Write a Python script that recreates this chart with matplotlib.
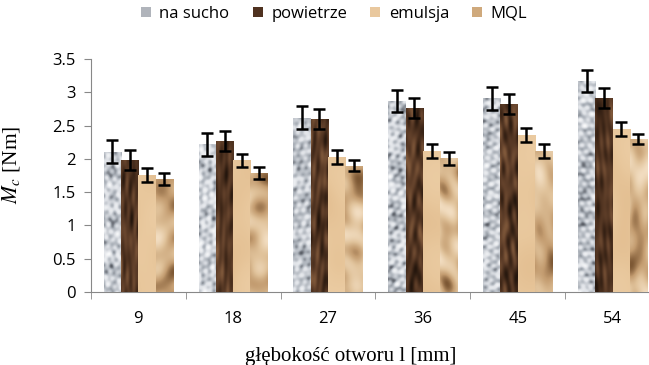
import numpy as np
import matplotlib.pyplot as plt
from matplotlib.colors import LinearSegmentedColormap
from matplotlib.patches import Patch

# dane
glebokosc = ['9', '18', '27', '36', '45', '54']
serie = ['na sucho', 'powietrze', 'emulsja', 'MQL']
na_sucho = [2.11, 2.22, 2.62, 2.87, 2.91, 3.17]
powietrze = [1.98, 2.27, 2.60, 2.77, 2.82, 2.91]
emulsja = [1.76, 1.98, 2.03, 2.12, 2.36, 2.45]
mql = [1.70, 1.79, 1.90, 2.01, 2.12, 2.30]
err_na_sucho = [0.17, 0.17, 0.17, 0.17, 0.17, 0.17]
err_powietrze = [0.15, 0.15, 0.15, 0.15, 0.15, 0.15]
err_emulsja = [0.10, 0.10, 0.10, 0.10, 0.11, 0.10]
err_mql = [0.09, 0.09, 0.08, 0.10, 0.10, 0.08]

wartosci = [na_sucho, powietrze, emulsja, mql]
bledy = [err_na_sucho, err_powietrze, err_emulsja, err_mql]

# kolory tekstur
mapy = [
    LinearSegmentedColormap.from_list('g', ['#5c6068', '#aab0b8', '#dde0e5', '#f8f9fa']),
    LinearSegmentedColormap.from_list('b', ['#24160d', '#432a1a', '#61402a', '#80593b']),
    LinearSegmentedColormap.from_list('e', ['#dcb383', '#e8c79c', '#f0d3ad']),
    LinearSegmentedColormap.from_list('m', ['#7d5834', '#c39c70', '#e0c29a', '#f2ddc1']),
]
kolory_leg = ['#b0b4bb', '#4f3220', '#e9c89e', '#cfa97c']

# parametry tekstur: (skala x, skala y, kontrast)
skale = [(1.0, 1.0, 1.0), (1.2, 0.25, 1.0), (0.15, 0.1, 0.35), (0.35, 0.25, 1.0)]


def tekstura(h, w, k, s):
    yy, xx = np.mgrid[0:h, 0:w].astype(float)
    sx, sy, c = skale[k]
    n = np.zeros((h, w))
    for i in range(9):
        ang = i * 0.71 + s * 0.37 + k
        f = 0.55 + 0.45 * np.sin(i * 1.9 + k)
        n += np.sin(f * (np.cos(ang) * xx * sx + np.sin(ang) * yy * sy) + i * 2.3 + s * 1.1)
    n = (n - n.min()) / (n.max() - n.min())
    return 0.5 + c * (n - 0.5)


plt.rcParams['mathtext.fontset'] = 'stix'
fig = plt.figure(figsize=(6.49, 3.65), dpi=100)
ax = fig.add_axes([0.140, 0.2, 0.877, 0.638])

x = np.arange(len(glebokosc))
w = 0.182
offs = (np.arange(4) - 1.5) * w

for k in range(4):
    bars = ax.bar(x + offs[k], wartosci[k], w, color=kolory_leg[k], zorder=2)
    for j, b in enumerate(bars):
        img = tekstura(int(wartosci[k][j] * 67), 18, k, j)
        im = ax.imshow(img, cmap=mapy[k], vmin=0, vmax=1, aspect='auto', zorder=3,
                       interpolation='bilinear',
                       extent=[b.get_x(), b.get_x() + w, 0, wartosci[k][j]])
        im.set_clip_path(b)
    ax.errorbar(x + offs[k], wartosci[k], yerr=bledy[k], fmt='none', ecolor='black',
                elinewidth=1.8, capsize=4, capthick=1.8, zorder=4)

ax.set_xlim(-0.5, len(glebokosc) - 0.5)
ax.set_ylim(0, 3.5)
ax.set_yticks(np.arange(0, 3.51, 0.5))
ax.set_yticklabels(['0', '0.5', '1', '1.5', '2', '2.5', '3', '3.5'])
ax.set_xticks(x)
ax.set_xticklabels(glebokosc)
ax.set_xticks(np.arange(-0.5, len(glebokosc)), minor=True)
ax.tick_params(axis='x', which='major', length=0, pad=14)
ax.tick_params(axis='x', which='minor', length=5, color='#888888', direction='out')
ax.tick_params(axis='y', length=5, color='#888888', direction='out', pad=6)
for t in ax.get_xticklabels() + ax.get_yticklabels():
    t.set_fontfamily('Open Sans')
    t.set_fontsize(12)
for sp in ['top', 'right']:
    ax.spines[sp].set_visible(False)
for sp in ['left', 'bottom']:
    ax.spines[sp].set_color('#888888')

ax.set_ylabel('$M_c$ [Nm]', fontsize=15.5, family='Liberation Serif')
ax.yaxis.set_label_coords(-0.121, 0.545)
ax.set_xlabel('głębokość otworu l [mm]', fontsize=15, family='Liberation Serif')
ax.xaxis.set_label_coords(0.457, -0.235)

uchwyty = [Patch(facecolor=c, edgecolor='none') for c in kolory_leg]
fig.legend(uchwyty, serie, loc='center', bbox_to_anchor=(0.515, 0.962), ncol=4, frameon=False,
           handlelength=0.6, handleheight=0.6, handletextpad=0.5, columnspacing=1.4,
           prop={'family': 'Open Sans', 'size': 12})

fig.savefig('out.png', dpi=100)
